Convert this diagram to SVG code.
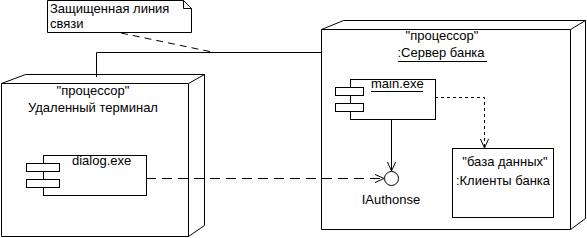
<svg xmlns="http://www.w3.org/2000/svg" width="587" height="238" viewBox="0 0 587 238">
<style>
.s{fill:none;stroke:#000;stroke-width:1}
.w{fill:#fff;stroke:#000;stroke-width:1}
text{font-family:"Liberation Sans",Arial,sans-serif;font-size:13px;fill:#000}
.c{text-anchor:middle}
</style>
<defs>
<marker id="v" viewBox="0 0 10 10" refX="10" refY="5" markerWidth="9" markerHeight="9" markerUnits="userSpaceOnUse" orient="auto">
<path d="M0,0.5 L10,5 L0,9.5" fill="none" stroke="#000" stroke-width="1.1"/>
</marker>
</defs>
<rect width="587" height="238" fill="#fff"/>
<g id="note">
<path class="w" d="M47.5,0.5 H183.5 L191.5,8.5 V32.5 H47.5 Z"/>
<path class="s" d="M183.5,0.5 V8.5 H191.5"/>
<text x="50" y="13">Защищенная линия</text>
<text x="50" y="28">связи</text>
</g>
<g id="terminal">
<path class="w" d="M1.5,83.5 L25.5,74.5 H204.5 V225.5 L188.5,236.5 H1.5 Z"/>
<path class="s" d="M1.5,83.5 H188.5 V236.5 M188.5,83.5 L204.5,74.5"/>
<text class="c" x="93" y="95">"процессор"</text>
<text class="c" x="93" y="112">Удаленный терминал</text>
</g>
<g id="server">
<path class="w" d="M321.5,29.5 L343.5,20.5 H585.5 V218.5 L570.5,229.5 H321.5 Z"/>
<path class="s" d="M321.5,29.5 H570.5 V229.5 M570.5,29.5 L585.5,20.5"/>
<text class="c" x="442" y="40">"процессор"</text>
<text class="c" x="441" y="57">:Сервер банка</text>
<line class="s" x1="398" y1="61.5" x2="487" y2="61.5"/>
</g>
<g id="dialog">
<rect class="w" x="43.5" y="155.5" width="103" height="40"/>
<rect class="w" x="26.5" y="163.5" width="33" height="8"/>
<rect class="w" x="26.5" y="179.5" width="33" height="8"/>
<text x="72" y="165">dialog.exe</text>
</g>
<g id="main">
<rect class="w" x="350.5" y="79.5" width="85" height="40"/>
<rect class="w" x="335.5" y="87.5" width="28" height="8"/>
<rect class="w" x="335.5" y="103.5" width="28" height="8"/>
<text x="371" y="88">main.exe</text>
<line class="s" x1="371" y1="91.5" x2="423" y2="91.5"/>
</g>
<g id="db">
<rect class="w" x="452.5" y="148.5" width="101" height="69"/>
<text class="c" x="505" y="166">"база данных"</text>
<text class="c" x="503" y="185">:Клиенты банка</text>
</g>
<g id="iauth">
<circle class="w" cx="391.5" cy="178.5" r="7"/>
<text class="c" x="391" y="204">IAuthonse</text>
</g>
<g id="connectors">
<path class="s" d="M96.5,77 V52.5 H321"/>
<line class="s" x1="121" y1="33" x2="212" y2="52" stroke-dasharray="7 5"/>
<line class="s" x1="146" y1="178.5" x2="384" y2="178.5" stroke-dasharray="10 6" marker-end="url(#v)"/>
<line class="s" x1="391.5" y1="119" x2="391.5" y2="171" marker-end="url(#v)"/>
<path class="s" d="M435,97.5 H484.5 V148" stroke-dasharray="3 3" marker-end="url(#v)"/>
</g>
</svg>
